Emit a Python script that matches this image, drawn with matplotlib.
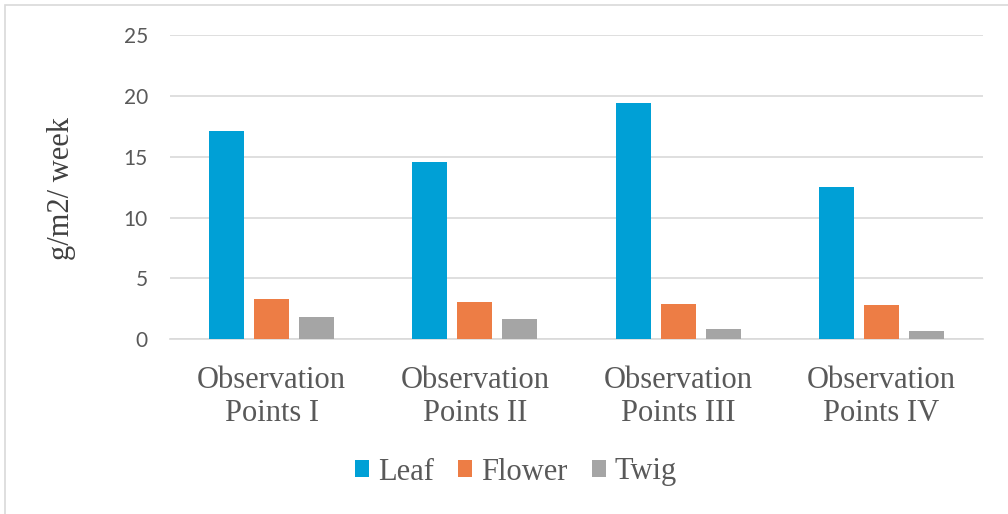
import matplotlib.pyplot as plt
import matplotlib.patches as mpatches
import numpy as np

plt.rcParams['font.family'] = ['Liberation Serif', 'DejaVu Serif']

# values
categories = ['Observation\nPoints I', 'Observation\nPoints II',
              'Observation\nPoints III', 'Observation\nPoints IV']
leaf = [17.1, 14.6, 19.4, 12.5]
flower = [3.3, 3.1, 2.9, 2.8]
twig = [1.8, 1.7, 0.85, 0.7]
series_names = ['Leaf', 'Flower', 'Twig']
colors = ['#00A0D6', '#ED7D45', '#A5A5A5']
y_ticks = [0, 5, 10, 15, 20, 25]

text_gray = '#595959'
grid_gray = '#D9D9D9'

fig = plt.figure(figsize=(10.08, 5.14), dpi=100)
ax = fig.add_axes([170 / 1008, 1 - 339.3 / 514, 813 / 1008, 304.3 / 514])

# outer chart border (left and top edges visible)
fig.patches.append(mpatches.Rectangle((5 / 1008, -0.1), 1.2, (514 - 5) / 514 + 0.1,
                                      transform=fig.transFigure, fill=False,
                                      edgecolor=grid_gray, linewidth=1.2))

x = np.arange(len(categories))
width = 0.172
step = 0.221
for i, (vals, name, c) in enumerate(zip([leaf, flower, twig], series_names, colors)):
    ax.bar(x + (i - 1) * step, vals, width, color=c, label=name, zorder=3)

ax.set_xlim(-0.5, 3.5)
ax.set_ylim(0, 25)
ax.set_yticks(y_ticks)
ax.set_yticklabels([str(v) for v in y_ticks], family='Lato', fontsize=15, color=text_gray)
ax.yaxis.grid(True, color=grid_gray, linewidth=1.2, zorder=0)
for s in ['top', 'right', 'left']:
    ax.spines[s].set_visible(False)
ax.spines['bottom'].set_color(grid_gray)
ax.spines['bottom'].set_linewidth(1.2)

ax.tick_params(axis='y', length=0, pad=16)
ax.set_xticks(x)
ax.set_xticklabels(categories, fontsize=22, color=text_gray, linespacing=1.2)
ax.tick_params(axis='x', length=0, pad=19)

ax.set_ylabel('g/m2/ week', fontsize=22, color='#404040')
ax.yaxis.set_label_coords(62 / 1008, 1 - 188 / 514, transform=fig.transFigure)
ax.yaxis.label.set_verticalalignment('center')

leg = fig.legend(loc='center', bbox_to_anchor=(516 / 1008, 1 - 472 / 514), ncol=3,
                 frameon=False, prop={'size': 22},
                 handlelength=0.45, handleheight=0.45, handletextpad=0.3,
                 columnspacing=0.8)
for t in leg.get_texts():
    t.set_color(text_gray)

fig.savefig('out.png', dpi=100)
